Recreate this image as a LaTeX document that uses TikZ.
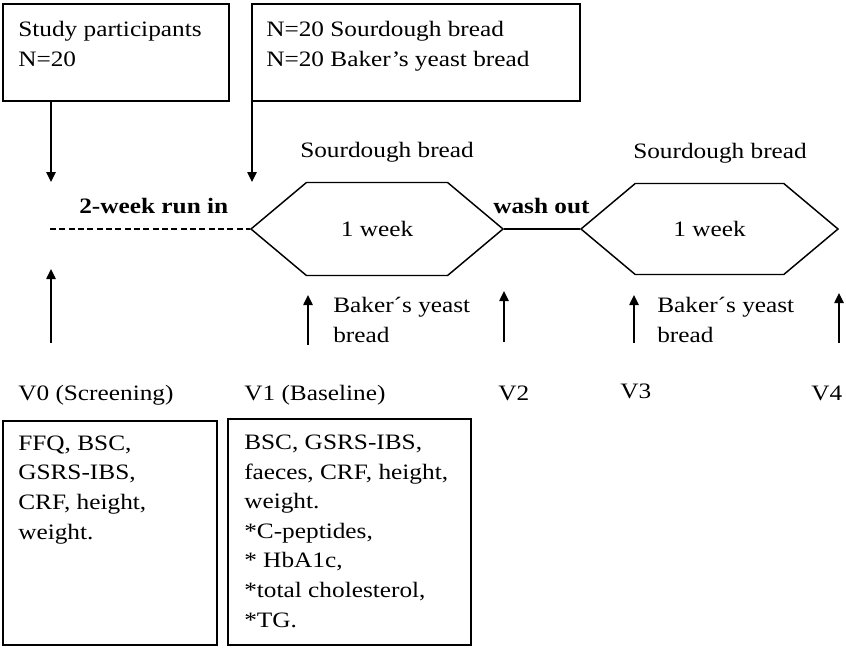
\documentclass[tikz,border=0pt]{standalone}
\usepackage{fontspec}
\setmainfont{Liberation Serif}[FakeStretch=1.15]
\usetikzlibrary{arrows.meta, shapes.symbols}

\begin{document}
\begin{tikzpicture}[x=0.75pt, y=-0.75pt,
	font=\fontsize{16.5pt}{22.2pt}\selectfont,
	box/.style={draw, line width=1.1pt, inner sep=0pt},
	txt/.style={anchor=base west, align=left, inner sep=0pt},
	period/.style={draw, line width=1.1pt, signal, signal to=west and east,
		signal pointer angle=80, inner sep=0pt},
	arr/.style={line width=1.1pt, -{Triangle[length=7.5pt, width=7pt]}}]
	% параметры
	\def\px{0.75pt} % один пиксель рисунка
	% у многострочных подписей base -- это базовая линия последней строки

	% рамка рисунка
	\useasboundingbox (0,0) rectangle (846,647);

	% верхние рамки
	\node[box, minimum width=226*\px, minimum height=97*\px] (partbox) at (116,52.5) {};
	\node[txt] (parttxt) at (18,66) {Study participants\\N=20};
	\node[box, minimum width=328*\px, minimum height=97*\px] (groupbox) at (416,52.5) {};
	\node[txt] (grouptxt) at (266,66) {N=20 Sourdough bread\\N=20 Baker’s yeast bread};

	% стрелки вниз
	\coordinate (in0) at (51,182);
	\coordinate (in1) at (252,182);
	\draw[arr] (partbox.south -| in0) -- (in0);
	\draw[arr] (groupbox.south -| in1) -- (in1);

	% периоды
	\coordinate (start) at (50,229);
	\node[period, minimum width=252*\px, minimum height=93*\px] (week1) at (377,229) {1 week};
	\node[period, minimum width=257*\px, minimum height=91*\px] (week2) at (709.5,229) {1 week};
	\draw[line width=1.1pt, dash pattern=on 4.5pt off 2.5pt] (start) -- (week1.west);
	\draw[line width=1.1pt] (week1.east) -- (week2.west);

	% подписи периодов
	\node[txt, font=\fontsize{16.5pt}{22.2pt}\selectfont\bfseries] (runin) at (79,213) {2-week run in};
	\node[txt, font=\fontsize{16.5pt}{22.2pt}\selectfont\bfseries] (washout) at (493,213) {wash out};
	\node[txt] (sour1) at (300,157) {Sourdough bread};
	\node[txt] (sour2) at (633,158) {Sourdough bread};
	\node[txt] (yeast1) at (333,342) {Baker´s yeast\\bread};
	\node[txt] (yeast2) at (657,342) {Baker´s yeast\\bread};

	% визиты
	\node[txt] (v0) at (18,400) {V0 (Screening)};
	\node[txt] (v1) at (244,400) {V1 (Baseline)};
	\node[txt] (v2) at (498,400) {V2};
	\node[txt] (v3) at (620,398) {V3};
	\node[txt] (v4) at (811,400) {V4};

	% стрелки вверх
	\coordinate (v0low) at (51,343);  \coordinate (v0up) at (51,269);
	\coordinate (v1low) at (308,345); \coordinate (v1up) at (308,295);
	\coordinate (v2low) at (504,342); \coordinate (v2up) at (504,291);
	\coordinate (v3low) at (634,343); \coordinate (v3up) at (634,295);
	\coordinate (v4low) at (839,343); \coordinate (v4up) at (839,293);
	\draw[arr] (v0low) -- (v0up);
	\draw[arr] (v1low) -- (v1up);
	\draw[arr] (v2low) -- (v2up);
	\draw[arr] (v3low) -- (v3up);
	\draw[arr] (v4low) -- (v4up);

	% нижние рамки
	\node[box, minimum width=214*\px, minimum height=224*\px] (screenbox) at (110,533) {};
	\node[txt] (screentxt) at (18,539) {FFQ, BSC,\\GSRS-IBS,\\CRF, height,\\weight.};
	\node[box, minimum width=243*\px, minimum height=226*\px] (basebox) at (349.5,532) {};
	\node[txt] (basetxt) at (244,627) {BSC, GSRS-IBS,\\faeces, CRF, height,\\weight.\\*C-peptides,\\* HbA1c,\\*total cholesterol,\\*TG.};
\end{tikzpicture}
\end{document}
